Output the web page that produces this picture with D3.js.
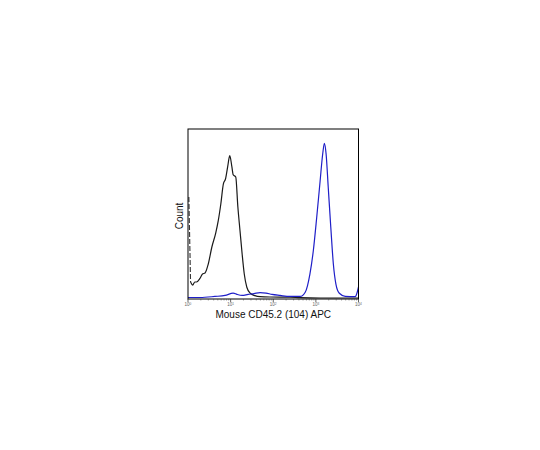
<!DOCTYPE html>
<html>
<head>
<meta charset="utf-8">
<script src="https://cdn.jsdelivr.net/npm/d3@7"></script>
<style>
  body { margin: 0; background: #fff; }
  text { font-family: "Liberation Sans", Arial, sans-serif; }
</style>
</head>
<body>
<div id="chart"></div>
<script>
// x positions are in decades (log10 of APC intensity), y is count in % of max
var decades = [0, 1, 2, 3, 4];

// black: control (isotype) histogram, first point is the pile-up at channel 0
var ctrlX = [0.02, 0.06, 0.11, 0.16, 0.20, 0.28, 0.34, 0.40, 0.47, 0.56, 0.65, 0.71, 0.77, 0.83, 0.88, 0.93, 0.98, 1.03, 1.06, 1.12, 1.17, 1.22, 1.27, 1.32, 1.38, 1.46, 1.57, 1.69, 1.92, 2.39, 2.63, 3.1, 4.0];
var ctrlY = [59.4, 9.4, 7.6, 9.4, 9.4, 11.5, 14.1, 14.7, 19.5, 30, 38.2, 45.5, 55.3, 67.1, 70, 77.1, 83.7, 77.1, 72.5, 71.2, 53.5, 39.6, 25.9, 14.1, 6.3, 2.8, 1.4, 0.8, 0.6, 0.5, 0.2, 0, 0];

// blue: CD45.2 stained
var stainX = [0, 0.28, 0.63, 0.87, 1.06, 1.15, 1.27, 1.41, 1.55, 1.69, 1.83, 1.97, 2.16, 2.39, 2.63, 2.75, 2.86, 2.94, 3.02, 3.10, 3.16, 3.20, 3.24, 3.29, 3.35, 3.41, 3.47, 3.55, 3.69, 3.92, 3.97, 4.0];
var stainY = [0.3, 0.3, 0.9, 1.5, 2.9, 2.1, 1.5, 2.1, 2.6, 3.2, 2.9, 2.1, 1.5, 0.9, 0.9, 3.4, 14.1, 27.8, 47.5, 69, 84.7, 91, 84.7, 65.1, 41.6, 20, 8.2, 2.8, 1.0, 0.8, 3.4, 6.5];

var xTitle = "Mouse CD45.2 (104) APC";
var yTitle = "Count";

var W = 540, H = 450;
var margin = { top: 129, left: 188 },
  width = 170.5,
  height = 170;

var svg = d3.select("#chart").append("svg")
  .attr("width", W)
  .attr("height", H);

var g = svg.append("g")
  .attr("transform", "translate(" + margin.left + "," + margin.top + ")");

var x = d3.scaleLinear().domain([0, 4]).range([0, width]);
var y = d3.scaleLinear().domain([0, 100]).range([height, 0]);

function toPts(xs, ys) {
  return xs.map(function (v, i) { return [v, ys[i]]; });
}

var line = d3.line()
  .x(function (d) { return x(d[0]); })
  .y(function (d) { return y(d[1]) - 1; })
  .curve(d3.curveMonotoneX);

var ctrl = toPts(ctrlX, ctrlY);
var stain = toPts(stainX, stainY);

// pile-up spike, drawn dashed like the original
g.append("path")
  .attr("d", d3.line()
    .x(function (d) { return x(d[0]); })
    .y(function (d) { return y(d[1]) - 1; })(ctrl.slice(0, 2)))
  .attr("fill", "none")
  .attr("stroke", "#333")
  .attr("stroke-width", 1.1)
  .attr("stroke-dasharray", "5,2");

g.append("path")
  .attr("d", line(ctrl.slice(1)))
  .attr("fill", "none")
  .attr("stroke", "#1a1a1a")
  .attr("stroke-width", 1.2);

g.append("path")
  .attr("d", line(stain))
  .attr("fill", "none")
  .attr("stroke", "#1f1fc8")
  .attr("stroke-width", 1.2);

// frame
g.append("rect")
  .attr("width", width)
  .attr("height", height)
  .attr("fill", "none")
  .attr("stroke", "#000")
  .attr("stroke-width", 1);

// minor ticks
var minor = [];
decades.slice(0, 4).forEach(function (d) {
  for (var k = 2; k < 10; k++) minor.push(d + Math.log10(k));
});
g.selectAll(".minor").data(minor).enter().append("line")
  .attr("x1", function (d) { return x(d); })
  .attr("x2", function (d) { return x(d); })
  .attr("y1", height)
  .attr("y2", height + 1.5)
  .attr("stroke", "#444")
  .attr("stroke-width", 0.5);

g.selectAll(".major").data(decades).enter().append("line")
  .attr("x1", function (d) { return x(d); })
  .attr("x2", function (d) { return x(d); })
  .attr("y1", height)
  .attr("y2", height + 3)
  .attr("stroke", "#222")
  .attr("stroke-width", 0.7);

var tl = g.selectAll(".tl").data(decades).enter().append("text")
  .attr("x", function (d) { return x(d); })
  .attr("y", height + 7)
  .attr("text-anchor", "middle")
  .attr("font-size", 4.5)
  .attr("fill", "#666");
tl.append("tspan").text("10");
tl.append("tspan").attr("dy", -1.5).attr("font-size", 3.2).text(function (d) { return d; });

g.append("text")
  .attr("x", width / 2)
  .attr("y", height + 18.5)
  .attr("text-anchor", "middle")
  .attr("font-size", 10)
  .attr("fill", "#111")
  .text(xTitle);

g.append("text")
  .attr("transform", "translate(-5," + (height / 2 + 2) + ") rotate(-90)")
  .attr("text-anchor", "middle")
  .attr("font-size", 10)
  .attr("fill", "#111")
  .text(yTitle);
</script>
</body>
</html>
